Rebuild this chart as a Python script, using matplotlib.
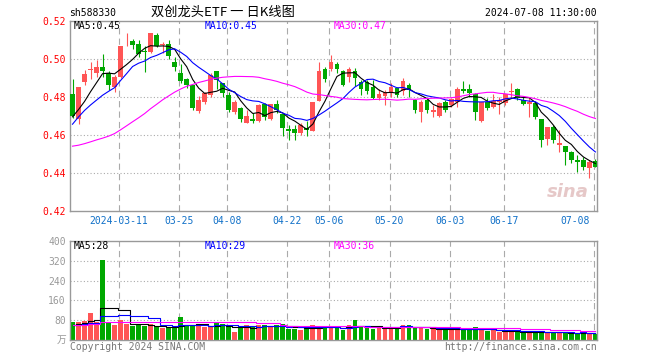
import numpy as np
import pandas as pd
import matplotlib
matplotlib.use('Agg')
import matplotlib.pyplot as plt
from matplotlib.transforms import blended_transform_factory

plt.rcParams['lines.scale_dashes'] = False

# daily K data, 2024-02-28 .. 2024-07-08
opens = [0.4816, 0.4686, 0.4877, 0.4941, 0.4925, 0.4958, 0.4925, 0.4853, 0.4904, 0.5078,
         0.5093, 0.5081, 0.5040, 0.5037, 0.5128, 0.5072, 0.5081, 0.4982, 0.4926, 0.4895,
         0.4861, 0.4725, 0.4775, 0.4811, 0.4937, 0.4872, 0.4811, 0.4723, 0.4740, 0.4665,
         0.4684, 0.4674, 0.4763, 0.4684, 0.4763, 0.4711, 0.4630, 0.4632, 0.4612, 0.4635,
         0.4623, 0.4781, 0.4947, 0.4946, 0.4974, 0.4937, 0.4907, 0.4937, 0.4881, 0.4881,
         0.4854, 0.4796, 0.4807, 0.4823, 0.4849, 0.4832, 0.4863, 0.4784, 0.4723, 0.4784,
         0.4723, 0.4700, 0.4775, 0.4758, 0.4775, 0.4842, 0.4842, 0.4816, 0.4675, 0.4772,
         0.4746, 0.4775, 0.4767, 0.4828, 0.4842, 0.4784, 0.4763, 0.4767, 0.4684, 0.4577,
         0.4644, 0.4547, 0.4542, 0.4511, 0.4467, 0.4467, 0.4425, 0.4465]
highs = [0.4895, 0.4851, 0.4940, 0.4982, 0.4995, 0.5028, 0.4935, 0.4918, 0.5067, 0.5137,
         0.5107, 0.5100, 0.5067, 0.5137, 0.5137, 0.5088, 0.5102, 0.5009, 0.4975, 0.4900,
         0.4865, 0.4804, 0.4828, 0.4925, 0.4937, 0.4875, 0.4828, 0.4784, 0.4749, 0.4732,
         0.4714, 0.4763, 0.4767, 0.4763, 0.4784, 0.4711, 0.4653, 0.4653, 0.4661, 0.4675,
         0.4775, 0.4986, 0.4960, 0.5021, 0.4986, 0.4942, 0.4956, 0.4951, 0.4889, 0.4889,
         0.4889, 0.4840, 0.4837, 0.4872, 0.4854, 0.4898, 0.4872, 0.4788, 0.4784, 0.4793,
         0.4758, 0.4775, 0.4784, 0.4793, 0.4851, 0.4886, 0.4868, 0.4819, 0.4772, 0.4793,
         0.4816, 0.4802, 0.4816, 0.4872, 0.4846, 0.4802, 0.4793, 0.4775, 0.4684, 0.4644,
         0.4653, 0.4626, 0.4542, 0.4514, 0.4493, 0.4484, 0.4468, 0.4472]
lows = [0.4689, 0.4660, 0.4861, 0.4896, 0.4907, 0.4905, 0.4839, 0.4825, 0.4900, 0.5067,
        0.5054, 0.5009, 0.4933, 0.5032, 0.5061, 0.5032, 0.5002, 0.4935, 0.4874, 0.4847,
        0.4733, 0.4716, 0.4763, 0.4798, 0.4840, 0.4798, 0.4723, 0.4711, 0.4670, 0.4661,
        0.4661, 0.4670, 0.4679, 0.4679, 0.4714, 0.4596, 0.4574, 0.4574, 0.4600, 0.4595,
        0.4623, 0.4781, 0.4881, 0.4939, 0.4925, 0.4858, 0.4881, 0.4858, 0.4811, 0.4816,
        0.4788, 0.4784, 0.4758, 0.4802, 0.4802, 0.4811, 0.4798, 0.4718, 0.4670, 0.4714,
        0.4696, 0.4696, 0.4723, 0.4749, 0.4749, 0.4819, 0.4798, 0.4679, 0.4670, 0.4732,
        0.4740, 0.4711, 0.4758, 0.4793, 0.4784, 0.4758, 0.4696, 0.4682, 0.4539, 0.4547,
        0.4560, 0.4512, 0.4442, 0.4454, 0.4405, 0.4414, 0.4372, 0.4430]
closes = [0.4698, 0.4851, 0.4923, 0.4947, 0.4958, 0.4935, 0.4865, 0.4905, 0.5067, 0.5081,
          0.5072, 0.5026, 0.5035, 0.5137, 0.5067, 0.5079, 0.5014, 0.4958, 0.4886, 0.4861,
          0.4742, 0.4786, 0.4819, 0.4916, 0.4889, 0.4819, 0.4732, 0.4775, 0.4684, 0.4700,
          0.4675, 0.4758, 0.4693, 0.4763, 0.4732, 0.4635, 0.4623, 0.4612, 0.4653, 0.4626,
          0.4775, 0.4939, 0.4893, 0.4986, 0.4947, 0.4863, 0.4946, 0.4898, 0.4842, 0.4832,
          0.4793, 0.4816, 0.4828, 0.4854, 0.4811, 0.4884, 0.4837, 0.4732, 0.4775, 0.4732,
          0.4732, 0.4767, 0.4732, 0.4788, 0.4842, 0.4833, 0.4819, 0.4723, 0.4772, 0.4744,
          0.4781, 0.4784, 0.4816, 0.4832, 0.4793, 0.4763, 0.4775, 0.4696, 0.4574, 0.4644,
          0.4574, 0.4556, 0.4511, 0.4467, 0.4458, 0.4432, 0.4460, 0.4433]
volumes = [72, 72, 77, 109, 73, 324, 73, 60, 80, 64,
           56, 60, 56, 63, 52, 48, 48, 52, 92, 60,
           56, 63, 52, 52, 67, 63, 52, 32, 55, 59,
           52, 59, 59, 56, 61, 63, 44, 44, 41, 45,
           61, 51, 56, 53, 51, 41, 60, 80, 51, 49,
           45, 53, 53, 49, 49, 60, 60, 49, 49, 45,
           43, 43, 43, 43, 43, 43, 43, 51, 43, 37,
           44, 33, 33, 33, 36, 29, 29, 32, 38, 29,
           29, 29, 29, 29, 27, 33, 28, 23]

# closes / volumes before 02-28 (estimated from where the MA lines start)
prev_closes = [0.470, 0.468, 0.466, 0.465, 0.466, 0.455, 0.450, 0.447, 0.445, 0.443,
               0.440, 0.437, 0.436, 0.438, 0.437, 0.440, 0.436, 0.439, 0.443, 0.446,
               0.447, 0.458, 0.466, 0.470, 0.468, 0.466, 0.471, 0.469, 0.472]
prev_volumes = [62, 58, 60, 65, 57, 61, 59, 63, 56, 60, 64, 58, 61, 57, 60,
                62, 59, 63, 58, 60, 61, 57, 62, 59, 60, 58, 63, 61, 57]

date_idx = [8, 18, 26, 36, 43, 53, 63, 72, 87]
date_labels = ['2024-03-11', '03-25', '04-08', '04-22', '05-06',
               '05-20', '06-03', '06-17', '07-08']
price_ticks = [0.42, 0.44, 0.46, 0.48, 0.50, 0.52]
vol_ticks = [80, 160, 240, 320, 400]

RED = '#ff5555'
GREEN = '#00a800'
MONO = 'DejaVu Sans Mono'
CJK = ['Noto Sans CJK SC', 'DejaVu Sans']

n = len(closes)
x = np.arange(n)
o = np.array(opens); c = np.array(closes)
h = np.array(highs); l = np.array(lows)
up = c >= o
cols = [RED if u else GREEN for u in up]

allc = pd.Series(prev_closes + closes)
allv = pd.Series(prev_volumes + volumes)
k = len(prev_closes)
ma = {w: allc.rolling(w, min_periods=1).mean().values[k:] for w in (5, 10, 30)}
vma = {w: allv.rolling(w, min_periods=1).mean().values[k:] for w in (5, 10, 30)}

W, H = 660, 360
fig = plt.figure(figsize=(6.6, 3.6), dpi=100)
ax1 = fig.add_axes([70 / W, (H - 211) / H, 527 / W, 190 / H])
ax2 = fig.add_axes([70 / W, (H - 340) / H, 527 / W, 99 / H])

xl = ((70 - 72.5) / 6.01, (597 - 72.5) / 6.01)

for ax in (ax1, ax2):
    ax.set_xlim(*xl)
    for s in ax.spines.values():
        s.set_color('#999999')
        s.set_linewidth(1.0)
    ax.tick_params(length=0, pad=3)
    ax.set_xticks([])
    for d in date_idx:
        ax.axvline(d - 0.25, color='#aaaaaa', lw=0.8, ls=(0, (4.5, 3)), zorder=0)

# price panel
ax1.set_ylim(0.42, 0.52)
ax1.set_yticks(price_ticks)
ax1.set_yticklabels(['%.2f' % t for t in price_ticks], color='red',
                    fontfamily=MONO, fontsize=7)
for t in price_ticks[1:-1]:
    ax1.axhline(t, color='#aaaaaa', lw=0.8, ls=(0, (0.8, 1.6)), zorder=0)

ax1.vlines(x, l, h, colors=cols, lw=0.8, zorder=2)
body = np.maximum(np.abs(c - o), 0.0003)
ax1.bar(x, body, bottom=np.minimum(o, c), width=0.8, color=cols, zorder=3)
ax1.plot(x, ma[5], color='black', lw=0.8, zorder=4)
ax1.plot(x, ma[10], color='blue', lw=0.8, zorder=4)
ax1.plot(x, ma[30], color='#ff00ff', lw=0.8, zorder=4)

tr = blended_transform_factory(ax1.transData, ax1.transAxes)
for d, lab in zip(date_idx, date_labels):
    if d == date_idx[-1]:
        ax1.text((590 - 72.5) / 6.01, -0.05, lab, transform=tr, ha='right', va='center',
                 color='#1070c8', fontfamily=MONO, fontsize=7)
    else:
        ax1.text(d - 0.25, -0.05, lab, transform=tr, ha='center', va='center',
                 color='#1070c8', fontfamily=MONO, fontsize=7)

ax1.text(0.985, 0.1, 'sina', transform=ax1.transAxes, ha='right', va='center',
         color='#e6c8c8', fontsize=13, fontweight='bold', style='italic', zorder=1)

# volume panel
ax2.set_ylim(0, 400)
ax2.set_yticks(vol_ticks)
ax2.set_yticklabels([str(t) for t in vol_ticks], color='#999999',
                    fontfamily=MONO, fontsize=7)
for t in vol_ticks[:-1]:
    ax2.axhline(t, color='#aaaaaa', lw=0.8, ls=(0, (0.8, 1.6)), zorder=0)
ax2.bar(x, volumes, width=0.8, color=cols, zorder=2)
ax2.plot(x, vma[5], color='black', lw=0.8, drawstyle='steps-mid', zorder=3)
ax2.plot(x, vma[10], color='blue', lw=0.8, drawstyle='steps-mid', zorder=3)
ax2.plot(x, vma[30], color='#ff00ff', lw=0.8, drawstyle='steps-mid', zorder=3)


def ftext(px, py, s, **kw):
    fig.text(px / W, 1 - py / H, s, va='center', **kw)


ftext(69, 13, 'sh588330', fontfamily=MONO, fontsize=7)
ftext(223, 12, '双创龙头ETF 一 日K线图', ha='center', fontfamily=CJK, fontsize=9.5)
ftext(597, 13, '2024-07-08 11:30:00', ha='right', fontfamily=MONO, fontsize=7)

ftext(74, 26, 'MA5:%.2f' % ma[5][-1], color='black', fontfamily=MONO, fontsize=7)
ftext(205, 26, 'MA10:%.2f' % ma[10][-1], color='blue', fontfamily=MONO, fontsize=7)
ftext(334, 26, 'MA30:%.2f' % ma[30][-1], color='#ff00ff', fontfamily=MONO, fontsize=7)

ftext(74, 246, 'MA5:%d' % round(vma[5][-1]), color='black', fontfamily=MONO, fontsize=7)
ftext(205, 246, 'MA10:%d' % round(vma[10][-1]), color='blue', fontfamily=MONO, fontsize=7)
ftext(334, 246, 'MA30:%d' % round(vma[30][-1]), color='#ff00ff', fontfamily=MONO, fontsize=7)

ftext(66, 340, '万', ha='right', color='#999999', fontfamily=CJK, fontsize=7)
ftext(70, 347, 'Copyright 2024 SINA.COM', color='#777777', fontfamily=MONO, fontsize=7)
ftext(597, 347, 'http://finance.sina.com.cn', ha='right', color='#777777',
      fontfamily=MONO, fontsize=7)

fig.savefig('out.png', dpi=100)
